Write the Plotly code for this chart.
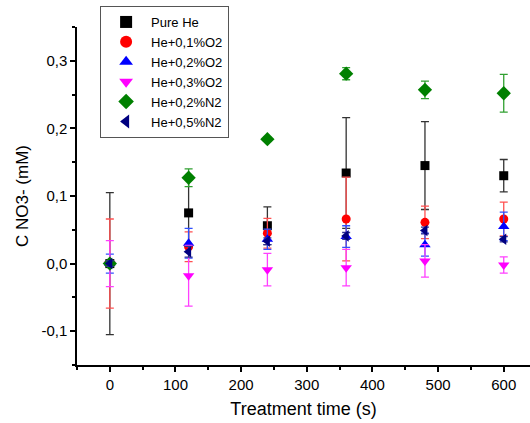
import plotly.graph_objects as go

# Treatment times (s)
time_s = [0, 120, 240, 360, 480, 600]

# Series values (mM) and error bars
pure_he = [0.000, 0.075, 0.056, 0.134, 0.145, 0.130]
pure_he_err = [0.105, 0.050, 0.028, 0.082, 0.065, 0.024]

he_o2_01 = [0.000, 0.025, 0.045, 0.066, 0.061, 0.066]
he_o2_01_err = [0.066, 0.022, 0.022, 0.062, 0.024, 0.025]

he_o2_02 = [0.000, 0.030, 0.036, 0.040, 0.028, 0.055]
he_o2_02_err = [0.014, 0.022, 0.015, 0.016, 0.017, 0.021]

he_o2_03 = [0.000, -0.018, -0.009, -0.006, 0.004, -0.002]
he_o2_03_err = [0.034, 0.045, 0.024, 0.027, 0.024, 0.012]

he_n2_02 = [0.000, 0.127, 0.184, 0.281, 0.257, 0.252]
he_n2_02_err = [0.003, 0.013, 0.003, 0.009, 0.013, 0.028]

he_n2_05 = [0.000, 0.0175, 0.033, 0.041, 0.049, 0.036]
he_n2_05_err = [0.004, 0.008, 0.005, 0.005, 0.005, 0.004]

series_names = ["Pure He", "He+0,1%O2", "He+0,2%O2", "He+0,3%O2", "He+0,2%N2", "He+0,5%N2"]

y_tickvals = [-0.1, 0.0, 0.1, 0.2, 0.3]
y_ticktext = ["-0,1", "0,0", "0,1", "0,2", "0,3"]
x_tickvals = [0, 100, 200, 300, 400, 500, 600]

series = [
    (series_names[0], pure_he, pure_he_err, "#000000", "#333333", "square", 9),
    (series_names[1], he_o2_01, he_o2_01_err, "#FF0000", "#FF5050", "circle", 9),
    (series_names[2], he_o2_02, he_o2_02_err, "#0000FF", "#3050FF", "triangle-up", 10),
    (series_names[3], he_o2_03, he_o2_03_err, "#FF00FF", "#FF40FF", "triangle-down", 10),
    (series_names[4], he_n2_02, he_n2_02_err, "#008000", "#30A030", "diamond", 11),
    (series_names[5], he_n2_05, he_n2_05_err, "#000080", "#303090", "triangle-left", 10),
]

fig = go.Figure()
for name, vals, errs, col, ecol, sym, size in series:
    fig.add_trace(go.Scatter(
        x=time_s, y=vals, name=name, mode="markers",
        marker=dict(symbol=sym, size=size, color=col, line=dict(width=0)),
        error_y=dict(type="data", array=errs, visible=True, color=ecol,
                     thickness=1.3, width=4),
    ))

FONT = "Arial, Liberation Sans, sans-serif"
axis_font = dict(family=FONT, size=15, color="#000000")

# figure 530x423; plot area from x=77..530, y=27..365 (pixels)
fig.update_layout(
    width=530, height=423,
    margin=dict(l=77, r=0, t=6, b=58, autoexpand=False),
    paper_bgcolor="white", plot_bgcolor="white",
    font=dict(family=FONT, color="#000000"),
    showlegend=True,
    legend=dict(
        x=0.051, y=1.0, xanchor="left", yanchor="top",
        bordercolor="#555555", borderwidth=1, bgcolor="white",
        font=dict(family=FONT, size=13, color="#000000"),
        tracegroupgap=0, itemsizing="constant", itemwidth=40,
    ),
    xaxis=dict(
        range=[-50, 640], showgrid=False, zeroline=False, automargin=False,
        showline=True, linecolor="#000000", linewidth=1.5,
        ticks="outside", ticklen=5, tickwidth=1.5, tickcolor="#000000",
        tickvals=x_tickvals, tickfont=axis_font,
        minor=dict(ticks="outside", ticklen=3, tickwidth=1.5, tickcolor="#000000", dtick=50, tick0=0),
        title=dict(text="Treatment time (s)", font=dict(size=18, family=FONT), standoff=11),
    ),
    yaxis=dict(
        range=[-0.15, 0.35], showgrid=False, zeroline=False, automargin=False,
        domain=[0, 338 / 359],
        showline=True, linecolor="#000000", linewidth=1.5,
        ticks="outside", ticklen=5, tickwidth=1.5, tickcolor="#000000",
        tickvals=y_tickvals, ticktext=y_ticktext, tickfont=axis_font,
        minor=dict(ticks="outside", ticklen=3, tickwidth=1.5, tickcolor="#000000", dtick=0.05, tick0=0.0),
        title=dict(text="C NO3- (mM)", font=dict(size=17, family=FONT), standoff=8),
    ),
)

fig.write_html("out.html", config={"displayModeBar": False},
               post_script="document.body.style.margin='0';")
